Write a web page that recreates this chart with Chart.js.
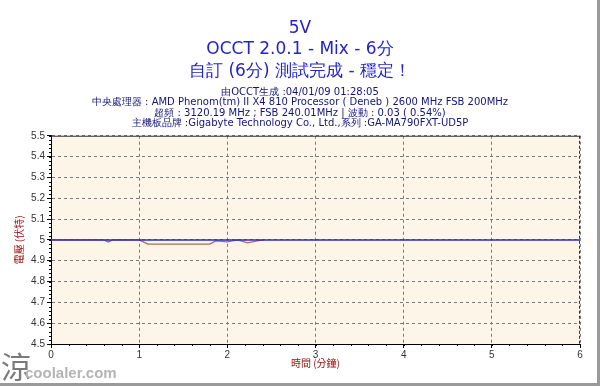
<!DOCTYPE html>
<html>
<head>
<meta charset="utf-8">
<script src="https://cdn.jsdelivr.net/npm/chart.js@4/dist/chart.umd.min.js"></script>
<style>
    html, body { margin: 0; padding: 0; background: #fff; }
</style>
</head>
<body>
<canvas id="occtChart" width="600" height="386"></canvas>
<script>
// Chart data
const titleLines = ['5V', 'OCCT 2.0.1 - Mix - 6分', '自訂 (6分) 測試完成 - 穩定！'];
const infoLines = [
    '由OCCT生成 :04/01/09 01:28:05',
    '中央處理器 : AMD Phenom(tm) II X4 810 Processor ( Deneb ) 2600 MHz FSB 200MHz',
    '超頻 : 3120.19 MHz ; FSB 240.01MHz | 波動 : 0.03 ( 0.54%)',
    '主機板品牌 :Gigabyte Technology Co., Ltd.,系列 :GA-MA790FXT-UD5P'
];
const yAxisTitle = '電壓 (伏特)';
const xAxisTitle = '時間 (分鐘)';

// time in minutes / voltage
const voltTime = [0, 0.6, 0.65, 0.7, 1.0, 1.1, 1.8, 1.87, 2.0, 2.12, 2.23, 2.35, 2.42];
const voltValues = [5.0, 5.0, 4.99, 5.0, 5.0, 4.98, 4.98, 4.995, 4.99, 5.0, 4.986, 4.996, 5.0];
const refTime = [0, 6];
const refValues = [5.0, 5.0];

const xTicks = [0, 1, 2, 3, 4, 5, 6];
const yTicks = [4.5, 4.6, 4.7, 4.8, 4.9, 5, 5.1, 5.2, 5.3, 5.4, 5.5];

// plot background, frame, minor ticks and watermark
const occtDecor = {
    id: 'occtDecor',
    beforeDraw(chart) {
        const { ctx, chartArea: a } = chart;
        ctx.save();
        ctx.fillStyle = '#fdf6e8';
        ctx.fillRect(a.left, a.top, a.right - a.left, a.bottom - a.top);
        ctx.restore();
    },
    afterDraw(chart) {
        const { ctx, chartArea: a, scales } = chart;
        ctx.save();
        // top border
        ctx.strokeStyle = '#333';
        ctx.lineWidth = 1;
        ctx.beginPath();
        ctx.moveTo(a.left, a.top + 0.5);
        ctx.lineTo(a.right, a.top + 0.5);
        ctx.stroke();
        // right border (dashed)
        ctx.setLineDash([3, 2]);
        ctx.beginPath();
        ctx.moveTo(a.right - 0.5, a.top);
        ctx.lineTo(a.right - 0.5, a.bottom);
        ctx.stroke();
        ctx.setLineDash([]);

        // minor ticks
        ctx.strokeStyle = '#000';
        for (let i = 0; i <= 50; i++) {
            const y = Math.round(scales.y.getPixelForValue(4.5 + i * 0.02)) + 0.5;
            ctx.beginPath();
            ctx.moveTo(a.left - 2, y);
            ctx.lineTo(a.left, y);
            ctx.stroke();
        }
        for (let i = 0; i <= 30; i++) {
            const x = Math.round(scales.x.getPixelForValue(i * 0.2)) + 0.5;
            ctx.beginPath();
            ctx.moveTo(x, a.bottom);
            ctx.lineTo(x, a.bottom + 2);
            ctx.stroke();
        }

        // window frame (right / bottom)
        ctx.fillStyle = '#9a9a9a';
        ctx.fillRect(597, 0, 3, 386);
        ctx.fillRect(0, 383, 600, 3);

        // watermark
        ctx.fillStyle = '#7a7a7a';
        ctx.font = '30px "Noto Sans CJK TC"';
        ctx.textBaseline = 'alphabetic';
        ctx.fillText('涼', 1, 378);
        ctx.fillStyle = '#b4b4b4';
        ctx.font = 'bold 15px "Liberation Sans"';
        ctx.fillText('coolaler.com', 25, 378);
        ctx.restore();
    }
};

const ctx = document.getElementById('occtChart').getContext('2d');
new Chart(ctx, {
    type: 'line',
    data: {
        datasets: [{
            label: 'volt',
            data: voltTime.map((t, i) => ({ x: t, y: voltValues[i] })),
            borderColor: '#b06666',
            borderWidth: 1.3,
            pointRadius: 0,
            tension: 0,
            order: 2
        }, {
            label: 'ref',
            data: refTime.map((t, i) => ({ x: t, y: refValues[i] })),
            borderColor: '#2a2ac8',
            borderWidth: 1.5,
            pointRadius: 0,
            tension: 0,
            order: 1
        }]
    },
    options: {
        responsive: false,
        animation: false,
        layout: {
            padding: { left: 0, right: 0, top: 0, bottom: 3 }
        },
        plugins: {
            legend: { display: false },
            tooltip: { enabled: false },
            title: {
                display: true,
                text: titleLines,
                color: '#2323c8',
                font: { family: 'DejaVu Sans', size: 17, weight: 'normal', lineHeight: 1.25 },
                padding: { top: 18, bottom: 1 }
            },
            subtitle: {
                display: true,
                text: infoLines,
                color: '#141478',
                font: { family: 'DejaVu Sans', size: 10, weight: 'normal', lineHeight: 1.05 },
                padding: { top: 4, bottom: 7 }
            }
        },
        scales: {
            x: {
                type: 'linear',
                min: 0,
                max: 6,
                afterBuildTicks: scale => { scale.ticks = xTicks.map(v => ({ value: v })); },
                afterFit: scale => { scale.height = 39; },
                ticks: {
                    color: '#333',
                    font: { family: 'Liberation Sans', size: 10 },
                    padding: 1,
                    maxRotation: 0
                },
                grid: {
                    color: '#7a7a7a',
                    tickColor: '#000',
                    tickLength: 4,
                    tickBorderDash: [1, 0]
                },
                border: { display: true, color: '#000', width: 1, dash: [3, 3] },
                title: {
                    display: true,
                    text: xAxisTitle,
                    color: '#9a1010',
                    font: { family: 'Noto Sans CJK TC', size: 10 },
                    padding: { top: 0, bottom: 14 }
                }
            },
            y: {
                type: 'linear',
                min: 4.5,
                max: 5.5,
                afterBuildTicks: scale => { scale.ticks = yTicks.map(v => ({ value: v })); },
                afterFit: scale => { scale.width = 51; },
                ticks: {
                    color: '#333',
                    font: { family: 'Liberation Sans', size: 10 },
                    padding: 2,
                    callback: v => String(Number(v.toFixed(1)))
                },
                grid: {
                    color: '#7a7a7a',
                    tickColor: '#000',
                    tickLength: 4,
                    tickBorderDash: [1, 0]
                },
                border: { display: true, color: '#000', width: 1, dash: [3, 3] },
                title: {
                    display: true,
                    text: yAxisTitle,
                    color: '#9a1010',
                    font: { family: 'Noto Sans CJK TC', size: 10 },
                    padding: { top: 13, bottom: 2 }
                }
            },
            // empty right-hand gutter so the titles center on the full window
            gutter: {
                type: 'linear',
                position: 'right',
                min: 4.5,
                max: 5.5,
                afterFit: scale => { scale.width = 20; },
                ticks: { display: false },
                grid: { display: false, drawTicks: false },
                border: { display: false }
            }
        }
    },
    plugins: [occtDecor]
});
</script>
</body>
</html>
